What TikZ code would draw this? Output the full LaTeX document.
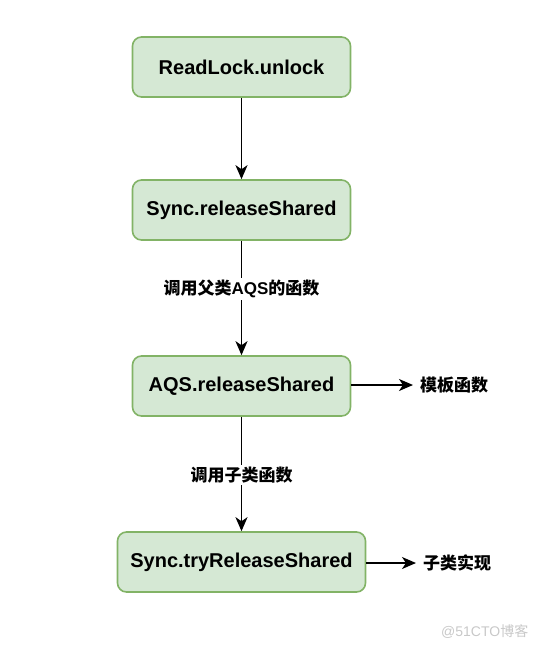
\documentclass[tikz,border=0pt]{standalone}
\usepackage{fontspec}
\setmainfont{Liberation Sans}
\newfontfamily\cjk{Noto Sans CJK SC}
\usetikzlibrary{arrows.meta}
\definecolor{boxfill}{HTML}{D5E8D4}
\definecolor{boxline}{HTML}{82B366}
\definecolor{wm}{HTML}{C8C8C8}
\begin{document}
\begin{tikzpicture}[x=1pt,y=-1pt,
  stepbox/.style={draw=boxline,fill=boxfill,line width=1.6pt,rounded corners=9pt,
    minimum height=60pt,inner sep=0pt,font=\fontsize{20}{23}\selectfont\bfseries},
  conn/.style={-{Stealth[length=14pt,width=12pt,inset=4pt]},line width=1.6pt,black},
  lbl/.style={font=\fontsize{17}{20}\selectfont\bfseries,fill=white,inner sep=2pt},
  side/.style={font=\fontsize{17}{20}\selectfont\bfseries,anchor=west,inner sep=0pt}]
\useasboundingbox (0,0) rectangle (537,649);
\node[stepbox,minimum width=218pt] (b1) at (241.5,67) {ReadLock.unlock};
\node[stepbox,minimum width=218pt] (b2) at (241.5,210) {Sync.releaseShared};
\node[stepbox,minimum width=218pt] (b3) at (241.5,386) {AQS.releaseShared};
\node[stepbox,minimum width=248pt] (b4) at (241.5,562) {Sync.tryReleaseShared};
\draw[conn] (b1) -- (b2);
\draw[conn] (b2) -- (b3);
\draw[conn] (b3) -- (b4);
\node[lbl] (l1) at (241.5,289) {{\cjk\bfseries 调用父类}AQS{\cjk\bfseries 的函数}};
\node[lbl] (l2) at (241.5,475) {\cjk\bfseries 调用子类函数};
\coordinate (e3) at (413,385);
\coordinate (e4) at (416,563);
\draw[conn] (b3.east |- e3) -- (e3);
\draw[conn] (b4.east |- e4) -- (e4);
\node[side] (t3) at (420,385) {\cjk\bfseries 模板函数};
\node[side] (t4) at (423,563) {\cjk\bfseries 子类实现};
\node[font=\fontsize{14}{16}\selectfont,text=wm,anchor=west,inner sep=0pt] (wm) at (441,632) {@51CTO{\cjk 博客}};
\end{tikzpicture}
\end{document}
